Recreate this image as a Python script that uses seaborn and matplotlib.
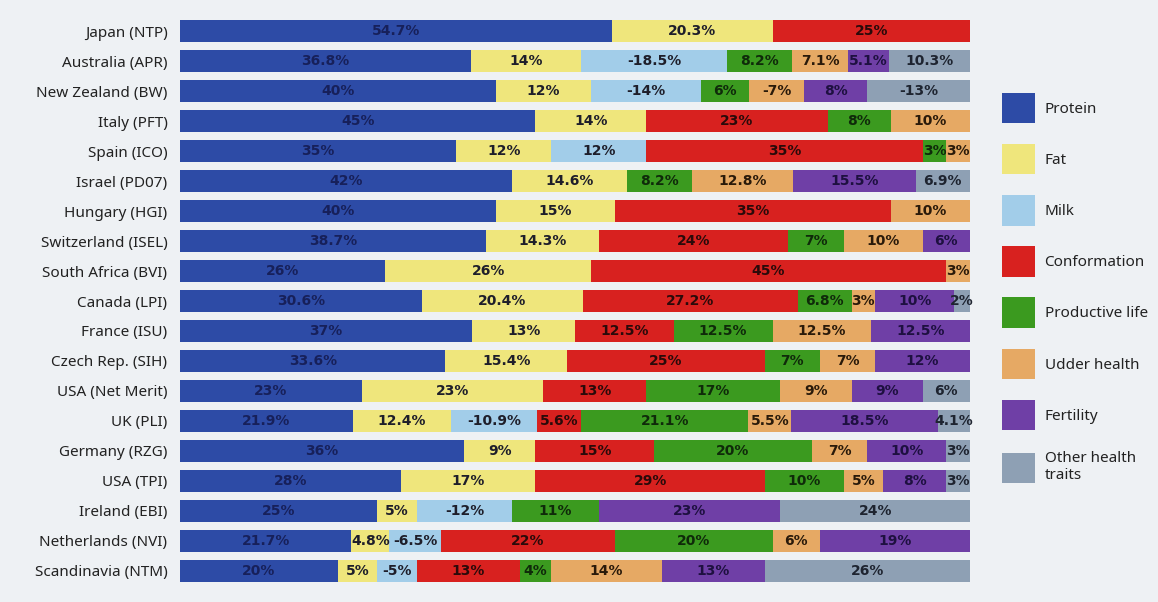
import numpy as np
import pandas as pd
import matplotlib
matplotlib.use("Agg")
import matplotlib.pyplot as plt
import seaborn as sns
from matplotlib.patches import Patch

# Breeding-index schemes, top to bottom
schemes = [
    "Japan (NTP)", "Australia (APR)", "New Zealand (BW)", "Italy (PFT)",
    "Spain (ICO)", "Israel (PD07)", "Hungary (HGI)", "Switzerland (ISEL)",
    "South Africa (BVI)", "Canada (LPI)", "France (ISU)", "Czech Rep. (SIH)",
    "USA (Net Merit)", "UK (PLI)", "Germany (RZG)", "USA (TPI)",
    "Ireland (EBI)", "Netherlands (NVI)", "Scandinavia (NTM)",
]

# Relative weight (%) of each trait group in each index (negative = selected against)
protein         = [54.7, 36.8, 40, 45, 35, 42, 40, 38.7, 26, 30.6, 37, 33.6, 23, 21.9, 36, 28, 25, 21.7, 20]
fat             = [20.3, 14, 12, 14, 12, 14.6, 15, 14.3, 26, 20.4, 13, 15.4, 23, 12.4, 9, 17, 5, 4.8, 5]
milk            = [0, -18.5, -14, 0, 12, 0, 0, 0, 0, 0, 0, 0, 0, -10.9, 0, 0, -12, -6.5, -5]
conformation    = [25, 0, 0, 23, 35, 0, 35, 24, 45, 27.2, 12.5, 25, 13, 5.6, 15, 29, 0, 22, 13]
productive_life = [0, 8.2, 6, 8, 3, 8.2, 0, 7, 0, 6.8, 12.5, 7, 17, 21.1, 20, 10, 11, 20, 4]
udder_health    = [0, 7.1, -7, 10, 3, 12.8, 10, 10, 3, 3, 12.5, 7, 9, 5.5, 7, 5, 0, 6, 14]
fertility       = [0, 5.1, 8, 0, 0, 15.5, 0, 6, 0, 10, 12.5, 12, 9, 18.5, 10, 8, 23, 19, 13]
other_health    = [0, 10.3, -13, 0, 0, 6.9, 0, 0, 0, 2, 0, 0, 6, 4.1, 3, 3, 24, 0, 26]

traits = ["Protein", "Fat", "Milk", "Conformation", "Productive life",
          "Udder health", "Fertility", "Other health\ntraits"]
colors = ["#2d4ba6", "#efe67c", "#a2cde9", "#d8211f", "#3b9a1f",
          "#e6a964", "#6f3fa6", "#8ea0b4"]
text_colors = ["#17205a", "#1e1e2a", "#1e1e2a", "#2a0a0a", "#0f2a0a",
               "#2a1a0a", "#1e1040", "#1e2430"]

sns.set_theme(style="white")
plt.rcParams["font.family"] = ["Noto Sans", "DejaVu Sans"]

weights = np.array([protein, fat, milk, conformation, productive_life,
                    udder_health, fertility, other_health], dtype=float).T
widths = np.abs(weights)
ends = np.cumsum(widths, axis=1)

bg = "#eef1f4"
fig = plt.figure(figsize=(11.58, 6.02), dpi=100, facecolor=bg)
ax = fig.add_axes([0.1554, 0.0266, 0.6823, 0.9468])
ax.set_facecolor("none")

# Stack by drawing cumulative totals from the last trait back to the first
for k in range(len(traits) - 1, -1, -1):
    df = pd.DataFrame({"scheme": schemes, "end": ends[:, k]})
    sns.barplot(data=df, x="end", y="scheme", orient="h", color=colors[k],
                saturation=1, width=0.74, linewidth=0, errorbar=None, ax=ax)

# Value labels centred in each segment
for i in range(len(schemes)):
    for k in range(len(traits)):
        w = widths[i, k]
        if w <= 0:
            continue
        centre = ends[i, k] - w / 2
        ax.text(centre, i, f"{weights[i, k]:g}%", ha="center", va="center",
                fontsize=10, fontweight="bold", color=text_colors[k],
                family=["DejaVu Sans"])

ax.set_xlim(0, 100)
ax.set_xlabel("")
ax.set_ylabel("")
ax.set_xticks([])
ax.tick_params(axis="y", length=0, pad=9, labelsize=11, labelcolor="#222222")
for s in ax.spines.values():
    s.set_visible(False)

handles = [Patch(facecolor=c, edgecolor="none", label=t) for c, t in zip(colors, traits)]
fig.legend(handles=handles, loc="upper left",
           bbox_to_anchor=(988 / 1158, 1 - 79 / 602), frameon=False,
           fontsize=11, handlelength=2.2, handleheight=2.7,
           labelspacing=1.35, handletextpad=0.6, labelcolor="#222222")

fig.savefig("out.png", dpi=100, facecolor=bg)
